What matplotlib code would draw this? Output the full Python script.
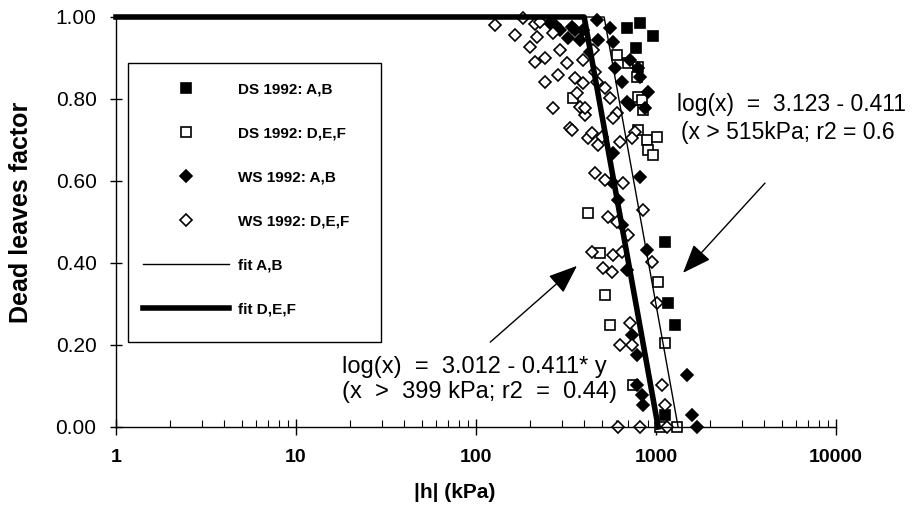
import matplotlib
matplotlib.use("Agg")
import matplotlib.pyplot as plt
import matplotlib.transforms as mtransforms
from matplotlib.patches import Rectangle
from matplotlib.ticker import FixedLocator, LogLocator, NullFormatter

plt.rcParams['font.family'] = ['Liberation Sans', 'DejaVu Sans']

# DS 1992: A,B (filled squares)
ds_ab_x = [690, 815, 962, 774, 1122, 1166, 1275, 1122]
ds_ab_y = [0.973, 0.985, 0.954, 0.924, 0.451, 0.302, 0.249, 0.029]

# DS 1992: D,E,F (open squares)
ds_def_x = [607, 699, 794, 784, 794, 836, 847, 794, 891, 1013, 903, 962,
            346, 419, 489, 1026, 521, 555, 1122, 745, 1052, 1308]
ds_def_y = [0.907, 0.888, 0.878, 0.854, 0.805, 0.798, 0.773, 0.724, 0.700, 0.707, 0.676, 0.663,
            0.802, 0.522, 0.424, 0.354, 0.322, 0.249, 0.205, 0.102, 0.0, 0.0]

# WS 1992: A,B (filled diamonds)
ws_ab_x = [258, 275, 293, 324, 341, 378, 393, 430, 470, 476, 555, 577, 592, 647, 717,
           794, 815, 903, 690, 717, 869, 577, 815, 615, 891, 690, 736, 784, 1487,
           784, 836, 847, 1585, 1690, 355, 570, 647]
ws_ab_y = [0.985, 0.980, 0.968, 0.949, 0.976, 0.944, 0.968, 0.915, 0.993, 0.944, 0.973, 0.939, 0.876, 0.841, 0.895,
           0.876, 0.854, 0.817, 0.793, 0.785, 0.778, 0.668, 0.610, 0.554, 0.432, 0.383, 0.224, 0.176, 0.127,
           0.102, 0.078, 0.054, 0.029, 0.0, 0.968, 0.598, 0.493]

# WS 1992: D,E,F (open diamonds)
ws_def_x = [127.5, 165, 182, 213, 227, 200, 218, 213, 242, 242, 286, 268, 333, 268, 293,
            320, 355, 364, 393, 378, 403, 393, 419, 447, 458, 470, 521, 555, 403, 607,
            577, 441, 501, 764, 736, 631, 341, 476, 458, 521, 656, 541, 699, 847, 441,
            508, 570, 577, 647, 950, 1013, 717, 631, 736, 1080, 1122, 615, 815, 1151, 607]
ws_def_y = [0.980, 0.956, 0.998, 0.983, 0.988, 0.927, 0.951, 0.890, 0.900, 0.841, 0.859, 0.778, 0.729, 0.961, 0.920,
            0.888, 0.851, 0.815, 0.839, 0.780, 0.761, 0.895, 0.705, 0.920, 0.866, 0.841, 0.827, 0.802, 0.778, 0.766,
            0.754, 0.717, 0.707, 0.720, 0.705, 0.695, 0.724, 0.688, 0.620, 0.602, 0.595, 0.512, 0.468, 0.529, 0.427,
            0.388, 0.378, 0.420, 0.427, 0.402, 0.302, 0.254, 0.200, 0.200, 0.102, 0.054, 0.0, 0.0, 0.0, 0.500]

# fitted lines (breakpoints from the equations shown)
fit_ab_x = [1, 515, 1327]
fit_ab_y = [1, 1, 0]
fit_def_x = [1, 399, 1028]
fit_def_y = [1, 1, 0]

x_ticks = [1, 10, 100, 1000, 10000]
x_tick_labels = ['1', '10', '100', '1000', '10000']
y_ticks = [0.0, 0.2, 0.4, 0.6, 0.8, 1.0]

W, H = 918, 520
fig = plt.figure(figsize=(W / 100, H / 100), dpi=100)
ax = fig.add_axes([116 / W, 1 - 427 / H, (836 - 116) / W, (427 - 17) / H])

mk = dict(linestyle='none', markeredgewidth=1.2, clip_on=False)
ax.plot(ds_ab_x, ds_ab_y, 's', ms=7, mfc='black', mec='black', label='DS 1992: A,B', **mk)
ax.plot(ds_def_x, ds_def_y, 's', ms=7, mfc='white', mec='black', label='DS 1992: D,E,F', **mk)
ax.plot(ws_ab_x, ws_ab_y, 'D', ms=6, mfc='black', mec='black', label='WS 1992: A,B', **mk)
ax.plot(ws_def_x, ws_def_y, 'D', ms=6, mfc='white', mec='black', label='WS 1992: D,E,F', **mk)
ax.plot(fit_ab_x, fit_ab_y, '-', color='black', lw=1.0, label='fit A,B', clip_on=False, zorder=4)
ax.plot(fit_def_x, fit_def_y, '-', color='black', lw=4.0, label='fit D,E,F', clip_on=False, zorder=4)

ax.set_xscale('log')
ax.set_xlim(1, 10000)
ax.set_ylim(0, 1)
ax.xaxis.set_major_locator(FixedLocator(x_ticks))
ax.set_xticks(x_ticks)
ax.set_xticklabels(x_tick_labels, fontsize=14, fontweight='bold')
ax.xaxis.set_minor_locator(LogLocator(base=10, subs=range(2, 10)))
ax.xaxis.set_minor_formatter(NullFormatter())
ax.set_yticks(y_ticks)
ax.set_yticklabels([f'{v:.2f}' for v in y_ticks], fontsize=15)

# the scanned original prints its decade labels a little left of the ticks
label_shift = [0, -8, -18, -26, -36]
for lab, dx in zip(ax.get_xticklabels(), label_shift):
    lab.set_transform(lab.get_transform() + mtransforms.ScaledTranslation(dx / 100, 0, fig.dpi_scale_trans))

for s in ['top', 'right']:
    ax.spines[s].set_visible(False)
for s in ['left', 'bottom']:
    ax.spines[s].set_linewidth(1.0)
ax.tick_params(axis='y', which='major', direction='inout', length=8, width=1, pad=10)
ax.tick_params(axis='x', which='major', direction='inout', length=11, width=1, pad=10)
ax.tick_params(axis='x', which='minor', direction='in', length=5, width=0.8)

ax.set_ylabel('Dead leaves factor', fontsize=18, fontweight='bold')
ax.yaxis.set_label_coords(-0.115, 0.524)
ax.set_xlabel('|h| (kPa)', fontsize=15, fontweight='bold')
ax.xaxis.set_label_coords(0.471, -0.137)

# legend with a hand-placed square frame
fig.patches.append(Rectangle((128 / W, 1 - 342 / H), (381 - 128) / W, (342 - 63) / H,
                             transform=fig.transFigure, fill=False, ec='black', lw=1.0))
leg = ax.legend(loc='upper left', bbox_to_anchor=(143 / W, 1 - 82 / H),
                bbox_transform=fig.transFigure, frameon=False, borderpad=0, borderaxespad=0,
                handlelength=5.6, handletextpad=0.6, labelspacing=1.97,
                prop={'weight': 'bold', 'size': 11})

# annotations (the right-hand pair runs up to the picture's edge in the original)
txt = dict(fontsize=17, va='center', ha='left')
fig.text(342 / W, 1 - 367 / H, 'log(x)  =  3.012 - 0.411* y', **txt)
fig.text(342 / W, 1 - 392 / H, '(x  >  399 kPa; r2  =  0.44)', **txt)
txt_r = dict(fontsize=16.5, va='center', ha='left')
fig.text(677 / W, 1 - 104 / H, 'log(x)  =  3.123 - 0.411', **txt_r)
fig.text(681 / W, 1 - 133 / H, '(x > 515kPa; r2 = 0.6', **txt_r)

arrow = dict(arrowstyle='-|>,head_length=0.9,head_width=0.35', color='black', lw=1.0,
             mutation_scale=20, shrinkA=0, shrinkB=0)
ax.annotate('', xy=(364, 0.393), xytext=(120, 0.207), arrowprops=arrow)
ax.annotate('', xy=(1413, 0.376), xytext=(4033, 0.595), arrowprops=arrow)

fig.savefig('out.png', dpi=100)
